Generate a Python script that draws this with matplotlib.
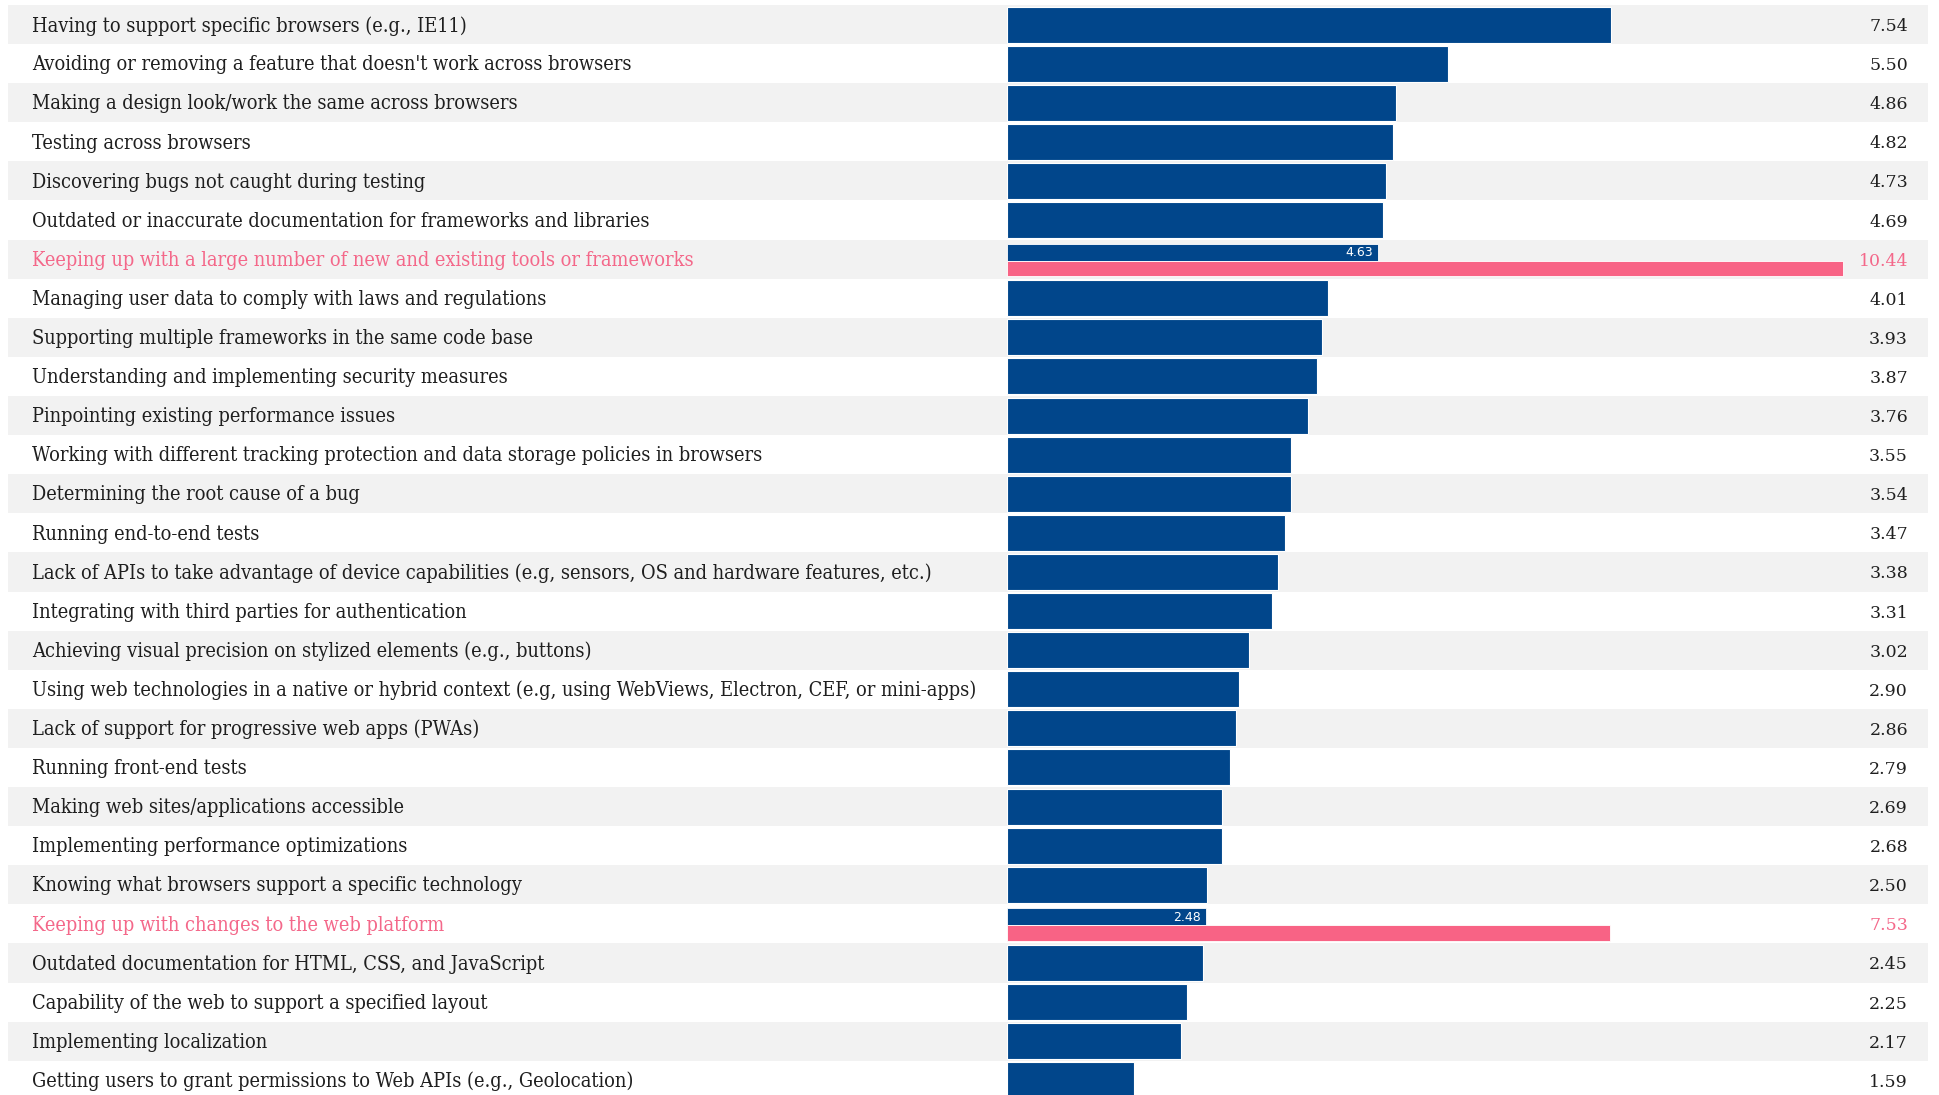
import matplotlib.pyplot as plt
import matplotlib.transforms as mtransforms

# Challenges, ranked by share of respondents (%)
labels = [
    "Having to support specific browsers (e.g., IE11)",
    "Avoiding or removing a feature that doesn't work across browsers",
    "Making a design look/work the same across browsers",
    "Testing across browsers",
    "Discovering bugs not caught during testing",
    "Outdated or inaccurate documentation for frameworks and libraries",
    "Keeping up with a large number of new and existing tools or frameworks",
    "Managing user data to comply with laws and regulations",
    "Supporting multiple frameworks in the same code base",
    "Understanding and implementing security measures",
    "Pinpointing existing performance issues",
    "Working with different tracking protection and data storage policies in browsers",
    "Determining the root cause of a bug",
    "Running end-to-end tests",
    "Lack of APIs to take advantage of device capabilities (e.g, sensors, OS and hardware features, etc.)",
    "Integrating with third parties for authentication",
    "Achieving visual precision on stylized elements (e.g., buttons)",
    "Using web technologies in a native or hybrid context (e.g, using WebViews, Electron, CEF, or mini-apps)",
    "Lack of support for progressive web apps (PWAs)",
    "Running front-end tests",
    "Making web sites/applications accessible",
    "Implementing performance optimizations",
    "Knowing what browsers support a specific technology",
    "Keeping up with changes to the web platform",
    "Outdated documentation for HTML, CSS, and JavaScript",
    "Capability of the web to support a specified layout",
    "Implementing localization",
    "Getting users to grant permissions to Web APIs (e.g., Geolocation)",
]
values = [7.54, 5.50, 4.86, 4.82, 4.73, 4.69, 4.63, 4.01, 3.93, 3.87, 3.76,
          3.55, 3.54, 3.47, 3.38, 3.31, 3.02, 2.90, 2.86, 2.79, 2.69, 2.68,
          2.50, 2.48, 2.45, 2.25, 2.17, 1.59]
# second series, only for the highlighted rows
highlight_rows = [6, 23]
highlight_values = [10.44, 7.53]

BLUE = '#01468b'
PINK = '#f86385'
PINK_TEXT = '#f4688a'
STRIPE = '#f2f2f2'
TEXT = '#1f1f1f'

W, H = 1939, 1095
x0_px = 1007        # where the bars start
ppu = 80.1          # pixels per percentage point
row_px = 39.1
top_px = 5

fig = plt.figure(figsize=(W / 100, H / 100), dpi=100)
ax = fig.add_axes([0, 0, 1, 1])
ax.set_xlim(-x0_px / ppu, (W - x0_px) / ppu)
top = -0.5 - top_px / row_px
ax.set_ylim(top + H / row_px, top)
ax.axis('off')

n = len(labels)
rows = list(range(n))

# alternating background stripes
stripe_rows = [i for i in rows if i % 2 == 0]
ax.barh(stripe_rows, [(1920) / ppu] * len(stripe_rows), left=(8 - x0_px) / ppu,
        height=1.0, color=STRIPE, zorder=0)

plain_rows = [i for i in rows if i not in highlight_rows]
ax.barh(plain_rows, [values[i] for i in plain_rows], height=0.92,
        color=BLUE, edgecolor='white', linewidth=0.8, zorder=2)

# highlighted rows: two thinner bars
hb = [values[i] for i in highlight_rows]
ax.barh([r - 0.18 for r in highlight_rows], hb, height=0.43,
        color=BLUE, edgecolor='white', linewidth=0.6, zorder=2)
ax.barh([r + 0.235 for r in highlight_rows], highlight_values, height=0.39,
        color=PINK, edgecolor='white', linewidth=0.6, zorder=2)
for r, v in zip(highlight_rows, hb):
    ax.text(v - 5 / ppu, r - 0.16, f"{v:.2f}", color='white', fontsize=9,
            ha='right', va='center', family='DejaVu Sans', zorder=3)

trans = mtransforms.blended_transform_factory(ax.transAxes, ax.transData)
serif = ['DejaVu Serif']
for i in rows:
    hl = i in highlight_rows
    ax.text(32 / W, i + 0.03, labels[i], transform=trans, ha='left', va='center',
            fontsize=14.3, color=PINK_TEXT if hl else TEXT, family=serif,
            fontstretch='condensed')
    if hl:
        val = highlight_values[highlight_rows.index(i)]
        ax.text(1908 / W, i + 0.05, f"{val:.2f}", transform=trans, ha='right',
                va='center', fontsize=12.5, color=PINK_TEXT, family=serif)
    else:
        ax.text(1908 / W, i + 0.05, f"{values[i]:.2f}", transform=trans,
                ha='right', va='center', fontsize=12.5, color=TEXT, family=serif)

fig.savefig('out.png', dpi=100)
plt.close()
